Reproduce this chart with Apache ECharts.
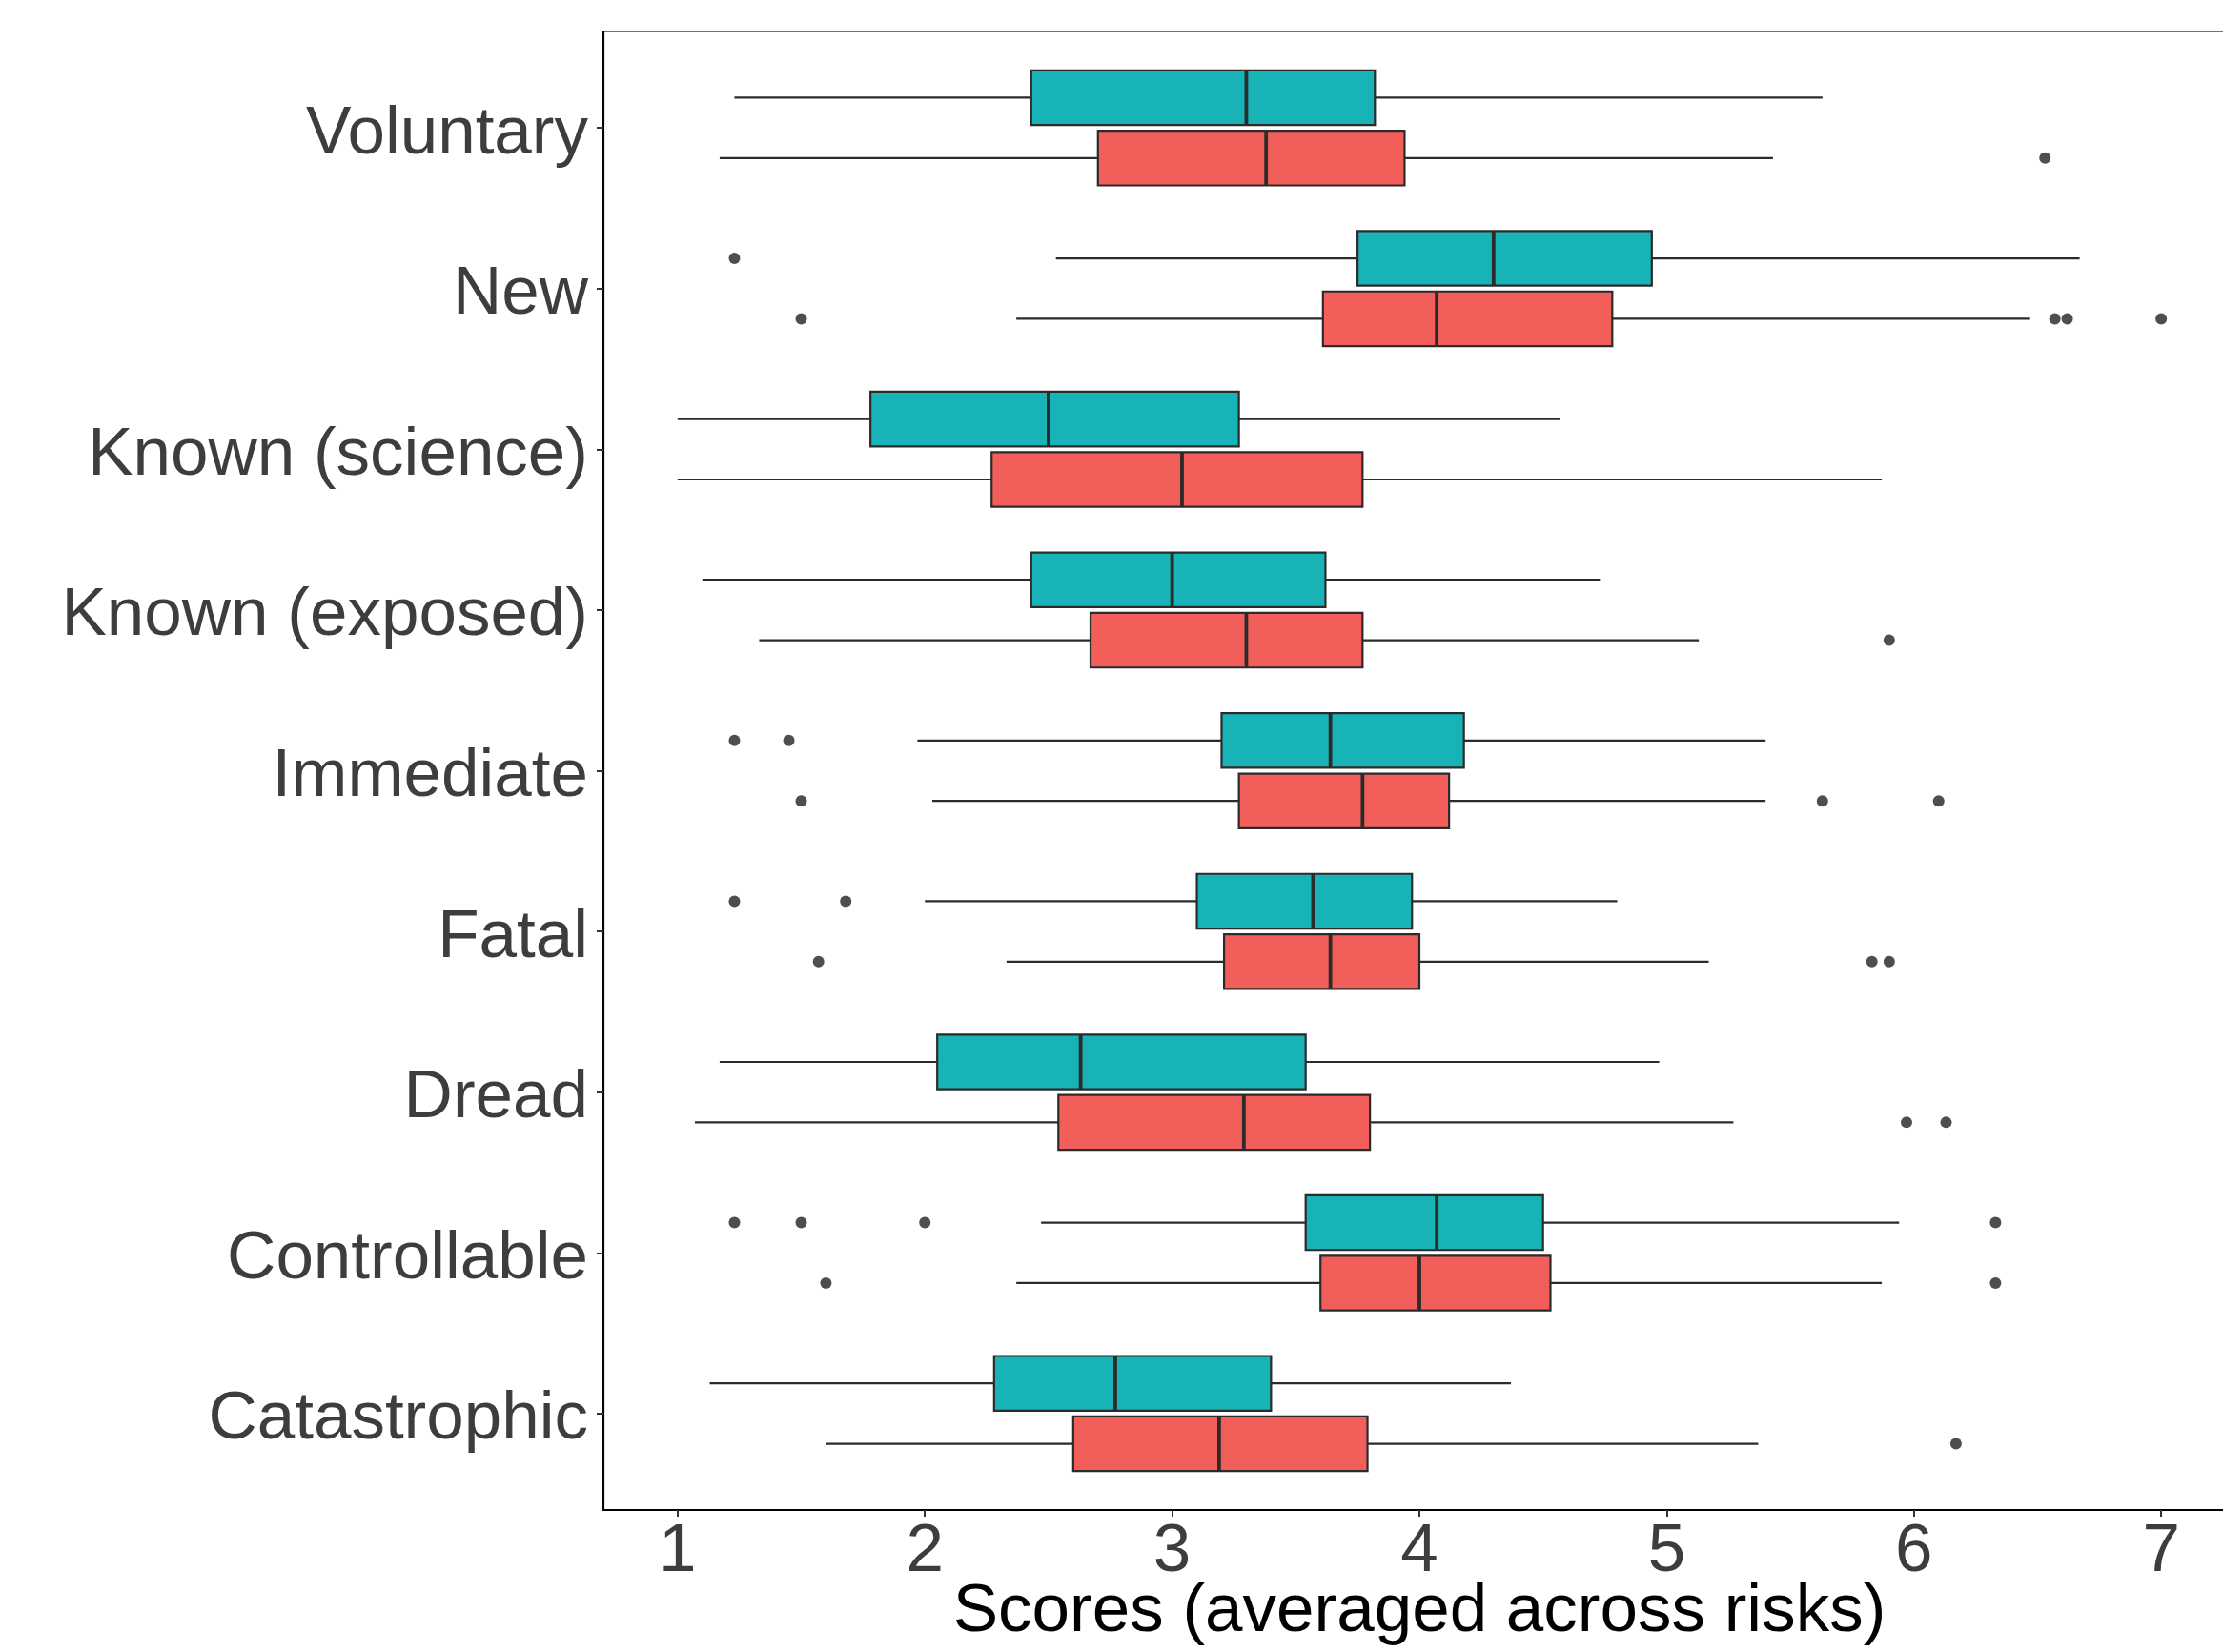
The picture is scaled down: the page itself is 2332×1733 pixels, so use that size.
<!DOCTYPE html>
<html>
<head>
<meta charset="utf-8">
<script src="https://cdn.jsdelivr.net/npm/echarts@6/dist/echarts.min.js"></script>
<style>
html,body{margin:0;padding:0;background:#fff;overflow:hidden;}
#chart{width:2332px;height:1733px;}
</style>
</head>
<body>
<div id="chart"></div>
<script>
const categories = ['Voluntary','New','Known (science)','Known (exposed)','Immediate','Fatal','Dread','Controllable','Catastrophic'];
const xTicks = [1,2,3,4,5,6,7];

// Teal group (upper box in each pair)
const tealLow  = [1.23, 2.53, 1.00, 1.10, 1.97, 2.00, 1.17, 2.47, 1.13];
const tealQ1   = [2.43, 3.75, 1.78, 2.43, 3.20, 3.10, 2.05, 3.54, 2.28];
const tealMed  = [3.30, 4.30, 2.50, 3.00, 3.64, 3.57, 2.63, 4.07, 2.77];
const tealQ3   = [3.82, 4.94, 3.27, 3.62, 4.18, 3.97, 3.54, 4.50, 3.40];
const tealHigh = [5.63, 6.67, 4.57, 4.73, 5.40, 4.80, 4.97, 5.94, 4.37];
const tealOutliers = [[], [1.23], [], [], [1.23, 1.45], [1.23, 1.68], [], [1.23, 1.50, 2.00, 6.33], []];

// Red group (lower box in each pair)
const redLow  = [1.17, 2.37, 1.00, 1.33, 2.03, 2.33, 1.07, 2.37, 1.60];
const redQ1   = [2.70, 3.61, 2.27, 2.67, 3.27, 3.21, 2.54, 3.60, 2.60];
const redMed  = [3.38, 4.07, 3.04, 3.30, 3.77, 3.64, 3.29, 4.00, 3.19];
const redQ3   = [3.94, 4.78, 3.77, 3.77, 4.12, 4.00, 3.80, 4.53, 3.79];
const redHigh = [5.43, 6.47, 5.87, 5.13, 5.40, 5.17, 5.27, 5.87, 5.37];
const redOutliers = [[6.53], [1.50, 6.57, 6.62, 7.00], [], [5.90], [1.50, 5.63, 6.10], [1.57, 5.83, 5.90], [5.97, 6.13], [1.60, 6.33], [6.17]];

const DODGE = 0.188;
const HALF = 0.17;
const TEAL = '#18B3B7';
const RED = '#F25F5A';
const LINE = '#2b2b2b';

function boxData(lo, q1, md, q3, hi) {
  return categories.map((c, i) => [i, lo[i], q1[i], md[i], q3[i], hi[i]]);
}
function outlierData(outs, off) {
  const d = [];
  outs.forEach((arr, i) => arr.forEach(v => d.push([v, i + off])));
  return d;
}
function makeRender(off, fill) {
  return function (params, api) {
    const yc = api.value(0) + off;
    const lo = api.value(1), q1 = api.value(2), md = api.value(3), q3 = api.value(4), hi = api.value(5);
    const pLo = api.coord([lo, yc]);
    const pQ1 = api.coord([q1, yc]);
    const pMd = api.coord([md, yc]);
    const pQ3 = api.coord([q3, yc]);
    const pHi = api.coord([hi, yc]);
    const yA = api.coord([q1, yc - HALF])[1];
    const yB = api.coord([q1, yc + HALF])[1];
    const top = Math.min(yA, yB), h = Math.abs(yB - yA);
    return {
      type: 'group',
      children: [
        {type: 'line', shape: {x1: pLo[0], y1: pLo[1], x2: pQ1[0], y2: pQ1[1]}, style: {stroke: LINE, lineWidth: 2.2}},
        {type: 'line', shape: {x1: pQ3[0], y1: pQ3[1], x2: pHi[0], y2: pHi[1]}, style: {stroke: LINE, lineWidth: 2.2}},
        {type: 'rect', shape: {x: pQ1[0], y: top, width: pQ3[0] - pQ1[0], height: h}, style: {fill: fill, stroke: LINE, lineWidth: 2.2}},
        {type: 'line', shape: {x1: pMd[0], y1: top, x2: pMd[0], y2: top + h}, style: {stroke: LINE, lineWidth: 3.8}}
      ]
    };
  };
}

const chart = echarts.init(document.getElementById('chart'), null, {renderer: 'canvas'});
const FONT = '"Liberation Sans", Arial, Helvetica, sans-serif';
chart.setOption({
  animation: false,
  backgroundColor: '#ffffff',
  grid: {left: 633, width: 1712, top: 33, height: 1551, outerBoundsMode: 'none', containLabel: false,
    show: true, borderColor: '#444', borderWidth: 1.5, backgroundColor: 'transparent'},
  xAxis: {
    type: 'value', min: 0.7, max: 7.3,
    name: 'Scores (averaged across risks)', nameLocation: 'middle', nameGap: 72, nameMoveOverlap: false,
    nameTextStyle: {fontSize: 71, color: '#000', fontFamily: FONT},
    axisLine: {show: true, onZero: false, lineStyle: {color: '#000', width: 2.2}},
    axisTick: {show: true, length: 7, customValues: xTicks, lineStyle: {color: '#333', width: 2}},
    axisLabel: {customValues: xTicks, fontSize: 71, color: '#3d3d3d', fontFamily: FONT, margin: 9},
    splitLine: {show: false}
  },
  yAxis: {
    type: 'value', min: -0.6, max: 8.6, inverse: true,
    axisLine: {show: true, onZero: false, lineStyle: {color: '#000', width: 2.2}},
    axisTick: {show: true, length: 7, customValues: categories.map((c, i) => i), lineStyle: {color: '#333', width: 2}},
    axisLabel: {customValues: categories.map((c, i) => i), fontSize: 71, color: '#3d3d3d', fontFamily: FONT, margin: 16,
      verticalAlign: 'top', lineHeight: 14,
      formatter: v => categories[Math.round(v)] || ''},
    splitLine: {show: false}
  },
  series: [
    {type: 'custom', name: 'Teal group', renderItem: makeRender(-DODGE, TEAL), encode: {x: [1, 2, 3, 4, 5], y: 0},
      data: boxData(tealLow, tealQ1, tealMed, tealQ3, tealHigh), z: 2},
    {type: 'custom', name: 'Red group', renderItem: makeRender(DODGE, RED), encode: {x: [1, 2, 3, 4, 5], y: 0},
      data: boxData(redLow, redQ1, redMed, redQ3, redHigh), z: 2},
    {type: 'scatter', name: 'Teal outliers', data: outlierData(tealOutliers, -DODGE), symbolSize: 12, itemStyle: {color: '#222'}, z: 3},
    {type: 'scatter', name: 'Red outliers', data: outlierData(redOutliers, DODGE), symbolSize: 12, itemStyle: {color: '#222'}, z: 3}
  ]
});
</script>
</body>
</html>
